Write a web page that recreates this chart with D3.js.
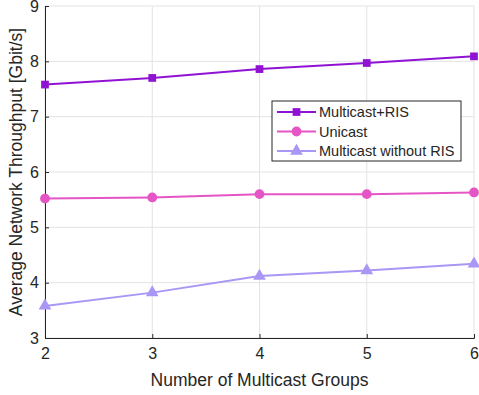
<!DOCTYPE html>
<html>
<head>
<meta charset="utf-8">
<script src="https://cdn.jsdelivr.net/npm/d3@7"></script>
<style>
  body { margin: 0; background: #fff; }
  text { font-family: "Liberation Sans", Arial, sans-serif; fill: #262626; }
</style>
</head>
<body>
<div id="chart"></div>
<script>
// number of multicast groups on the x axis
var groups = [2, 3, 4, 5, 6];
var xTicks = [2, 3, 4, 5, 6];
var yTicks = [3, 4, 5, 6, 7, 8, 9];

// throughput, Gbit/s
var multicastRis = [7.58, 7.70, 7.86, 7.97, 8.09];
var unicast = [5.52, 5.54, 5.60, 5.60, 5.63];
var multicastNoRis = [3.58, 3.82, 4.12, 4.22, 4.34];

var seriesNames = ["Multicast+RIS", "Unicast", "Multicast without RIS"];

var width = 479, height = 395;
var margin = {left: 45, right: 5, top: 6, bottom: 57};

var svg = d3.select("#chart").append("svg")
	.attr("width", width)
	.attr("height", height);

var x = d3.scaleLinear().domain([2, 6]).range([margin.left, width - margin.right]);
var y = d3.scaleLinear().domain([3, 9]).range([height - margin.bottom, margin.top]);

// grid
svg.append("g").selectAll("line.gx")
	.data(xTicks).enter().append("line")
	.attr("x1", function(d) { return x(d); })
	.attr("x2", function(d) { return x(d); })
	.attr("y1", y(3)).attr("y2", y(9))
	.style("stroke", "#e3e3e3").style("stroke-width", 1);
svg.append("g").selectAll("line.gy")
	.data(yTicks).enter().append("line")
	.attr("x1", x(2)).attr("x2", x(6))
	.attr("y1", function(d) { return y(d); })
	.attr("y2", function(d) { return y(d); })
	.style("stroke", "#e3e3e3").style("stroke-width", 1);

// axes
var xAxis = svg.append("g")
	.attr("transform", "translate(0," + y(3) + ")")
	.call(d3.axisBottom(x).tickValues(xTicks).tickSize(-4).tickPadding(10).tickFormat(d3.format("d")));
var yAxis = svg.append("g")
	.attr("transform", "translate(" + x(2) + ",0)")
	.call(d3.axisLeft(y).tickValues(yTicks).tickSize(-4).tickPadding(6).tickFormat(d3.format("d")));
[xAxis, yAxis].forEach(function(a) {
	a.select(".domain").style("stroke", "#262626").style("stroke-width", 1);
	a.selectAll(".tick line").style("stroke", "#262626");
	a.selectAll(".tick text").style("font-size", "16px").style("fill", "#262626")
		.style("font-family", "'Liberation Sans', Arial, sans-serif");
});

svg.append("text")
	.attr("x", (x(2) + x(6)) / 2)
	.attr("y", 386)
	.attr("text-anchor", "middle")
	.style("font-size", "17.5px")
	.text("Number of Multicast Groups");

svg.append("text")
	.attr("transform", "translate(22," + (y(6)) + ") rotate(-90)")
	.attr("text-anchor", "middle")
	.style("font-size", "17.5px")
	.text("Average Network Throughput [Gbit/s]");

var series = [
	{name: seriesNames[0], values: multicastRis, color: "#9013d3", symbol: d3.symbolSquare, size: 60},
	{name: seriesNames[1], values: unicast, color: "#e655c6", symbol: d3.symbolCircle, size: 75},
	{name: seriesNames[2], values: multicastNoRis, color: "#a996f5", symbol: d3.symbolTriangle, size: 70}
];

var line = d3.line()
	.x(function(d, i) { return x(groups[i]); })
	.y(function(d) { return y(d); });

series.forEach(function(s) {
	svg.append("path")
		.datum(s.values)
		.attr("d", line)
		.style("fill", "none")
		.style("stroke", s.color)
		.style("stroke-width", 2);
	svg.append("g").selectAll("path")
		.data(s.values).enter().append("path")
		.attr("d", d3.symbol().type(s.symbol).size(s.size))
		.attr("transform", function(d, i) { return "translate(" + x(groups[i]) + "," + y(d) + ")"; })
		.style("fill", s.color);
});

// legend
var legend = svg.append("g").attr("transform", "translate(272,101)");
legend.append("rect")
	.attr("width", 189).attr("height", 60)
	.style("fill", "#fff").style("stroke", "#262626").style("stroke-width", 1);
var item = legend.selectAll("g.item")
	.data(series).enter().append("g")
	.attr("transform", function(d, i) { return "translate(0," + (11 + i * 19.5) + ")"; });
item.append("line")
	.attr("x1", 5).attr("x2", 44)
	.style("stroke", function(d) { return d.color; })
	.style("stroke-width", 2);
item.append("path")
	.attr("d", function(d) { return d3.symbol().type(d.symbol).size(d.size)(); })
	.attr("transform", "translate(24.5,0)")
	.style("fill", function(d) { return d.color; });
item.append("text")
	.attr("x", 47).attr("dy", "0.35em")
	.style("font-size", "14.5px")
	.text(function(d) { return d.name; });
</script>
</body>
</html>
